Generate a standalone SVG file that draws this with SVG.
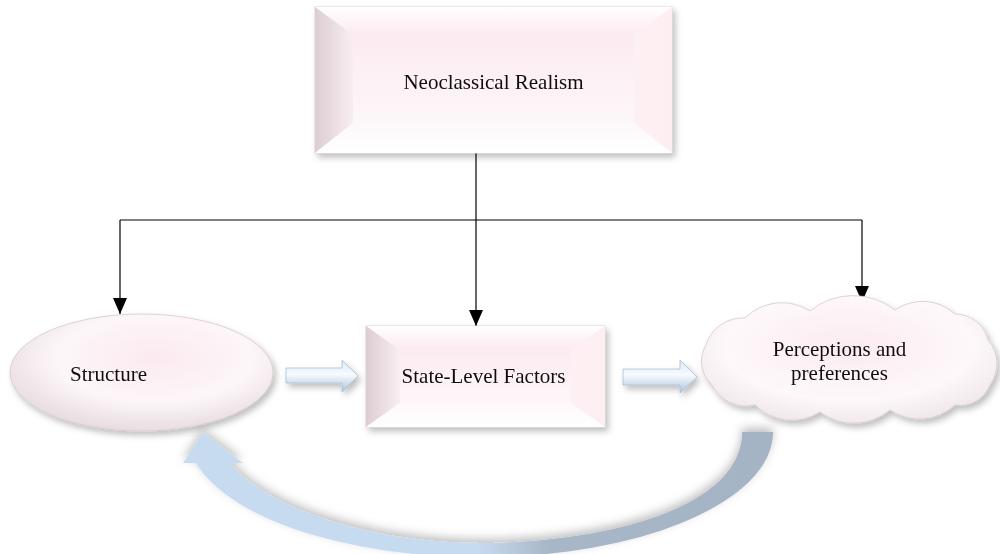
<svg xmlns="http://www.w3.org/2000/svg" width="1000" height="554" viewBox="0 0 1000 554">
<defs>
<style>
.lbl{font-family:"Liberation Serif","Times New Roman",serif;font-size:21px;fill:#111;text-anchor:middle}
.conn{stroke:#000;stroke-width:1.2;fill:none}
.edge{stroke:#d6c8cc;stroke-width:0.8}
</style>
<filter id="sh" x="-10%" y="-10%" width="130%" height="140%">
<feDropShadow dx="3" dy="4" stdDeviation="3" flood-color="#000" flood-opacity="0.25"/>
</filter>
<filter id="shc" x="-10%" y="-20%" width="120%" height="140%">
<feDropShadow dx="0" dy="-4" stdDeviation="5" flood-color="#000" flood-opacity="0.25"/>
</filter>
<marker id="ah" markerUnits="userSpaceOnUse" markerWidth="16" markerHeight="14" refX="16" refY="7" orient="auto">
<path d="M0,0 L16,7 L0,14 z" fill="#000"/>
</marker>
<linearGradient id="gTop" x1="0" y1="0" x2="0" y2="1"><stop offset="0" stop-color="#ffffff"/><stop offset="1" stop-color="#fceaef"/></linearGradient>
<linearGradient id="gLeft" x1="0" y1="0" x2="1" y2="0"><stop offset="0" stop-color="#dccdd2"/><stop offset="1" stop-color="#f8eef1"/></linearGradient>
<linearGradient id="gRight" x1="0" y1="0" x2="1" y2="0"><stop offset="0" stop-color="#fdf0f3"/><stop offset="1" stop-color="#fdeef2"/></linearGradient>
<linearGradient id="gBot" x1="0" y1="0" x2="0" y2="1"><stop offset="0" stop-color="#fdf8f9"/><stop offset="1" stop-color="#ffffff"/></linearGradient>
<linearGradient id="gIn" x1="0" y1="0" x2="0" y2="1"><stop offset="0" stop-color="#fcebf0"/><stop offset="1" stop-color="#fdf7f9"/></linearGradient>
<radialGradient id="gEll" cx="0.55" cy="0.38" r="0.62"><stop offset="0" stop-color="#fbeaf0"/><stop offset="0.6" stop-color="#fdf6f8"/><stop offset="1" stop-color="#e8dde0"/></radialGradient>
<radialGradient id="gCloud" cx="0.5" cy="0.4" r="0.6"><stop offset="0" stop-color="#fbebf0"/><stop offset="0.7" stop-color="#fef8fa"/><stop offset="1" stop-color="#f1e8eb"/></radialGradient>
<linearGradient id="gArr" x1="0" y1="0" x2="0" y2="1"><stop offset="0" stop-color="#d9e7f6"/><stop offset="0.45" stop-color="#f7fbff"/><stop offset="1" stop-color="#a9c1da"/></linearGradient>
<linearGradient id="gCurve" x1="0" y1="0" x2="1" y2="0"><stop offset="0" stop-color="#c7dbf0"/><stop offset="0.5" stop-color="#c7dbf0"/><stop offset="0.62" stop-color="#a8b7c7"/><stop offset="1" stop-color="#a5b4c4"/></linearGradient>
</defs>

<g id="connectors">
<line class="conn" x1="476" y1="153" x2="476" y2="326" marker-end="url(#ah)"/>
<line class="conn" x1="120" y1="220" x2="862" y2="220"/>
<line class="conn" x1="120" y1="220" x2="120" y2="314" marker-end="url(#ah)"/>
<line class="conn" x1="862" y1="220" x2="862" y2="302" marker-end="url(#ah)"/>
</g>

<g id="node-neoclassical" filter="url(#sh)">
<rect x="315" y="7" width="357" height="146" fill="#fdf6f8" class="edge"/>
<polygon points="315,7 672,7 634,35 353,35" fill="url(#gTop)"/>
<polygon points="315,7 353,35 353,123 315,153" fill="url(#gLeft)"/>
<polygon points="672,7 672,153 634,123 634,35" fill="url(#gRight)"/>
<polygon points="315,153 353,123 634,123 672,153" fill="url(#gBot)"/>
<rect x="353" y="35" width="281" height="88" fill="url(#gIn)"/>
<text class="lbl" x="493.5" y="89">Neoclassical Realism</text>
</g>

<g id="node-structure" filter="url(#sh)">
<ellipse cx="141.5" cy="372.5" rx="131.5" ry="58.5" fill="url(#gEll)" class="edge"/>
<text class="lbl" x="108.5" y="381">Structure</text>
</g>

<g id="node-state" filter="url(#sh)">
<rect x="366" y="326" width="239" height="101" fill="#fdf6f8" class="edge"/>
<polygon points="366,326 605,326 571,350 400,350" fill="url(#gTop)"/>
<polygon points="366,326 400,350 400,403 366,427" fill="url(#gLeft)"/>
<polygon points="605,326 605,427 571,403 571,350" fill="url(#gRight)"/>
<polygon points="366,427 400,403 571,403 605,427" fill="url(#gBot)"/>
<rect x="400" y="350" width="171" height="53" fill="url(#gIn)"/>
<text class="lbl" x="483.5" y="383">State-Level Factors</text>
</g>

<g id="node-perceptions" filter="url(#sh)">
<path class="edge" fill="url(#gCloud)" d="M706,345 A38,38 0 0 1 745,318 A52,52 0 0 1 810,311 A68,68 0 0 1 895,310 A48,48 0 0 1 955,314 A34,34 0 0 1 988,340 A36,36 0 0 1 990,385 A32,32 0 0 1 955,405 A52,52 0 0 1 890,410 A56,56 0 0 1 820,412 A52,52 0 0 1 755,405 A38,38 0 0 1 712,385 A32,32 0 0 1 706,345 Z"/>
<text class="lbl" x="839.5" y="356">Perceptions and</text>
<text class="lbl" x="839.5" y="380">preferences</text>
</g>

<g id="block-arrows" filter="url(#sh)">
<polygon points="286,368 342,368 342,360 358,376 342,392 342,383 286,383" fill="url(#gArr)" stroke="#a9bfd6" stroke-width="0.8"/>
<polygon points="623,369 680,369 680,360 697,377 680,393 680,385 623,385" fill="url(#gArr)" stroke="#a9bfd6" stroke-width="0.8"/>
</g>

<g id="curved-arrow" filter="url(#shc)">
<path fill="url(#gCurve)" d="M773,432 A293,125 0 0 1 196,463 L183,463 L203,433 L243,463 L230,463 C270,512 380,543 480,543 C600,543 742,510 742,432 Z"/>
</g>
</svg>
